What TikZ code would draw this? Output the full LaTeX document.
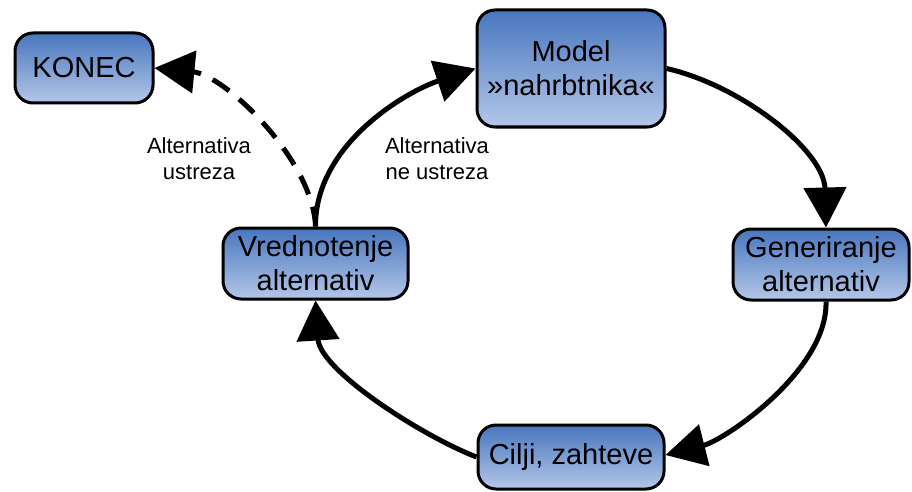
\documentclass[tikz,border=0pt]{standalone}
\usepackage{fontspec}
\setmainfont{Liberation Sans}
\usetikzlibrary{arrows.meta}

\definecolor{boxtop}{RGB}{72,118,190}
\definecolor{boxbottom}{RGB}{180,199,232}

\tikzset{
  stage/.style={draw=black, line width=3pt, rounded corners=18pt,
    top color=boxtop, bottom color=boxbottom, align=center, inner sep=0pt,
    font=\fontsize{29}{34}\selectfont},
  flow/.style={line width=5pt, -{Triangle[length=40pt,width=42pt]}},
  exitflow/.style={flow, dash pattern=on 20pt off 13pt},
  note/.style={align=center, font=\fontsize{22}{26}\selectfont}
}

\begin{document}
\begin{tikzpicture}[x=1pt, y=-1pt]
  \useasboundingbox (0,0) rectangle (912,492);

  % process stages
  \node[stage, minimum width=138pt, minimum height=70pt] (konec) at (84,68) {KONEC};
  \node[stage, minimum width=188pt, minimum height=117pt] (model) at (571,68.5) {Model\\»nahrbtnika«};
  \node[stage, minimum width=176pt, minimum height=71pt] (gen) at (821,264.5) {Generiranje\\alternativ};
  \node[stage, minimum width=186pt, minimum height=64pt] (cilji) at (571,457) {Cilji, zahteve};
  \node[stage, minimum width=185pt, minimum height=71pt] (vred) at (315.5,263.5) {Vrednotenje\\alternativ};

  % loop connectors
  \draw[flow] (model.east) .. controls (740,85) and (824,150) .. ([xshift=5pt]gen.north);
  \draw[flow] ([xshift=5pt]gen.south) .. controls (828,370) and (725,440) .. ([yshift=2pt]cilji.east);
  \draw[flow] (cilji.west) .. controls (420,435) and (320,370) .. (vred.south);
  \draw[flow] (vred.north) .. controls (315,145) and (405,92) .. (model.west);

  % exit connector
  \draw[exitflow] (vred.north) .. controls (313,160) and (225,75) .. (konec.east);

  % connector labels
  \node[note] (ok) at (199,159) {Alternativa\\ustreza};
  \node[note] (notok) at (437,159) {Alternativa\\ne ustreza};
\end{tikzpicture}
\end{document}
